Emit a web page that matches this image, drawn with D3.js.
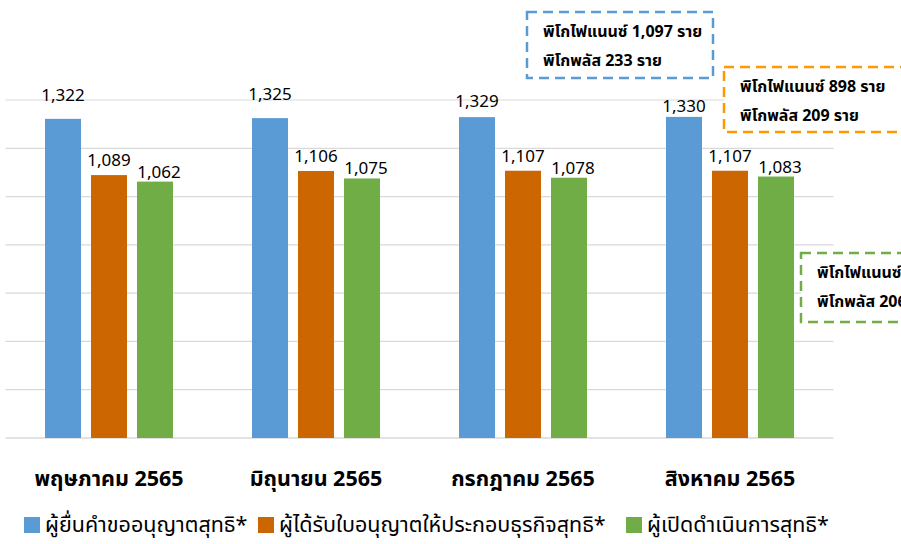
<!DOCTYPE html>
<html>
<head>
<meta charset="utf-8">
<script src="https://cdn.jsdelivr.net/npm/d3@7"></script>
<style>
  body { margin: 0; background: #fff; }
  svg text { font-family: Tahoma, "Leelawadee UI", "Noto Sans Thai", "Noto Sans", sans-serif; fill: #000; }
</style>
</head>
<body>
<svg width="901" height="544"></svg>
<script>
const months = ["พฤษภาคม 2565", "มิถุนายน 2565", "กรกฎาคม 2565", "สิงหาคม 2565"]
const seriesNames = ["ผู้ยื่นคำขออนุญาตสุทธิ*", "ผู้ได้รับใบอนุญาตให้ประกอบธุรกิจสุทธิ*", "ผู้เปิดดำเนินการสุทธิ*"]
const applicants = [1322, 1325, 1329, 1330]
const licensed = [1089, 1106, 1107, 1107]
const operating = [1062, 1075, 1078, 1083]
const yTicks = [0, 200, 400, 600, 800, 1000, 1200, 1400]

// notes for august (pico finance / pico plus)
const noteApplicants = ["พิโกไฟแนนซ์ 1,097 ราย", "พิโกพลัส 233 ราย"]
const noteLicensed = ["พิโกไฟแนนซ์ 898 ราย", "พิโกพลัส 209 ราย"]
const noteOperating = ["พิโกไฟแนนซ์ 877 ราย", "พิโกพลัส 206 ราย"]

const colors = ["#5B9BD5", "#CC6600", "#70AD47"]
const series = [applicants, licensed, operating]
// labels were nudged by hand in the original
const labelLift = [[18, 18, 10, 5], [9, 9, 9, 9], [4, 4, 4, 4]]

const svg = d3.select("svg")

const x = d3.scaleBand()
  .domain(months)
  .range([5.5, 833.5])

const y = d3.scaleLinear()
  .domain([0, 1400])
  .range([438, 100])

const barW = 36
const barStep = 46

svg.append("g")
  .selectAll("line")
  .data(yTicks)
  .join("line")
  .attr("x1", x.range()[0])
  .attr("x2", x.range()[1])
  .attr("y1", d => y(d))
  .attr("y2", d => y(d))
  .attr("stroke", "#D9D9D9")
  .attr("stroke-width", d => d === 0 ? 1.5 : 1.2)

series.forEach((vals, si) => {
  const off = (si - 1) * barStep - barW / 2
  const g = svg.append("g")
  g.selectAll("rect")
    .data(vals)
    .join("rect")
    .attr("x", (d, i) => x(months[i]) + x.bandwidth() / 2 + off)
    .attr("y", d => y(d))
    .attr("width", barW)
    .attr("height", d => y(0) - y(d))
    .attr("fill", colors[si])
  g.selectAll("text")
    .data(vals)
    .join("text")
    .attr("x", (d, i) => x(months[i]) + x.bandwidth() / 2 + off + barW / 2 + (si === 2 ? 4 : 0))
    .attr("y", (d, i) => y(d) - labelLift[si][i])
    .attr("text-anchor", "middle")
    .attr("font-size", 17)
    .text(d => d3.format(",")(d))
})

svg.append("g")
  .selectAll("text")
  .data(months)
  .join("text")
  .attr("x", d => x(d) + x.bandwidth() / 2)
  .attr("y", 486)
  .attr("text-anchor", "middle")
  .attr("font-size", 21.5)
  .attr("font-weight", "bold")
  .text(d => d)

// legend
const legendX = [24, 258, 626]
const legend = svg.append("g")
seriesNames.forEach((name, i) => {
  legend.append("rect")
    .attr("x", legendX[i])
    .attr("y", 517)
    .attr("width", 16)
    .attr("height", 16)
    .attr("fill", colors[i])
  legend.append("text")
    .attr("x", legendX[i] + 21)
    .attr("y", 532)
    .attr("font-size", 21.5)
    .text(name)
})

// dashed note boxes
const notes = [
  { lines: noteApplicants, color: colors[0], x: 527, y: 12, w: 186, h: 66 },
  { lines: noteLicensed, color: "#FF9900", x: 724, y: 67, w: 190, h: 65 },
  { lines: noteOperating, color: colors[2], x: 801, y: 253, w: 190, h: 69 }
]
notes.forEach(n => {
  const g = svg.append("g")
  g.append("rect")
    .attr("x", n.x)
    .attr("y", n.y)
    .attr("width", n.w)
    .attr("height", n.h)
    .attr("fill", "#fff")
    .attr("stroke", n.color)
    .attr("stroke-width", 2.5)
    .attr("stroke-dasharray", "10,6")
  g.selectAll("text")
    .data(n.lines)
    .join("text")
    .attr("x", n.x + 16)
    .attr("y", (d, i) => n.y + 25 + i * 29)
    .attr("font-size", 16)
    .attr("font-weight", "bold")
    .text(d => d)
})
</script>
</body>
</html>
